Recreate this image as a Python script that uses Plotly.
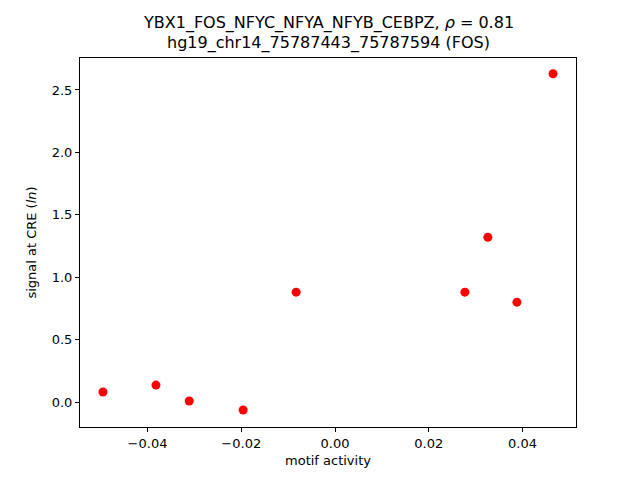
import plotly.graph_objects as go

motif_activity = [-0.0495, -0.0382, -0.0311, -0.0196, -0.0083, 0.0277, 0.0326, 0.0388, 0.0465]
signal = [0.08, 0.136, 0.008, -0.064, 0.88, 0.88, 1.32, 0.80, 2.63]
x_ticks = [-0.04, -0.02, 0.00, 0.02, 0.04]
x_tick_labels = ["\u22120.04", "\u22120.02", "0.00", "0.02", "0.04"]
y_ticks = [0.0, 0.5, 1.0, 1.5, 2.0, 2.5]
y_tick_labels = ["0.0", "0.5", "1.0", "1.5", "2.0", "2.5"]
title_lines = ["YBX1_FOS_NFYC_NFYA_NFYB_CEBPZ, <i>\u03c1</i> = 0.81",
               "hg19_chr14_75787443_75787594 (FOS)"]

fig = go.Figure(go.Scatter(
    x=motif_activity, y=signal, mode="markers",
    marker=dict(color="#ff0000", size=9, line=dict(width=0)),
))

font = "DejaVu Sans"
fig.update_layout(
    width=640, height=480,
    margin=dict(l=72, r=72, t=50, b=61, autoexpand=False),
    paper_bgcolor="white", plot_bgcolor="white",
    showlegend=False,
    font=dict(family=font, size=13, color="black"),
    annotations=[
        dict(text=title_lines[0], x=0.5, y=1.095, xref="paper", yref="paper",
             xanchor="center", yanchor="middle", showarrow=False,
             font=dict(family=font, size=16, color="black")),
        dict(text=title_lines[1], x=0.5, y=1.041, xref="paper", yref="paper",
             xanchor="center", yanchor="middle", showarrow=False,
             font=dict(family=font, size=16, color="black")),
    ],
)
axis_common = dict(
    showline=True, linecolor="black", linewidth=1, mirror=True,
    ticks="outside", ticklen=4, tickwidth=1, tickcolor="black",
    showgrid=False, zeroline=False, automargin=False,
    tickfont=dict(family=font, size=13, color="black"),
)
fig.update_xaxes(
    range=[-0.0544, 0.0514], tickvals=x_ticks, ticktext=x_tick_labels,
    title=dict(text="motif activity", standoff=6, font=dict(family=font, size=13)),
    **axis_common,
)
fig.update_yaxes(
    range=[-0.2, 2.756], tickvals=y_ticks, ticktext=y_tick_labels,
    title=dict(text="signal at CRE (<i>ln</i>)", standoff=12, font=dict(family=font, size=13)),
    **axis_common,
)
fig.write_html("out.html")
